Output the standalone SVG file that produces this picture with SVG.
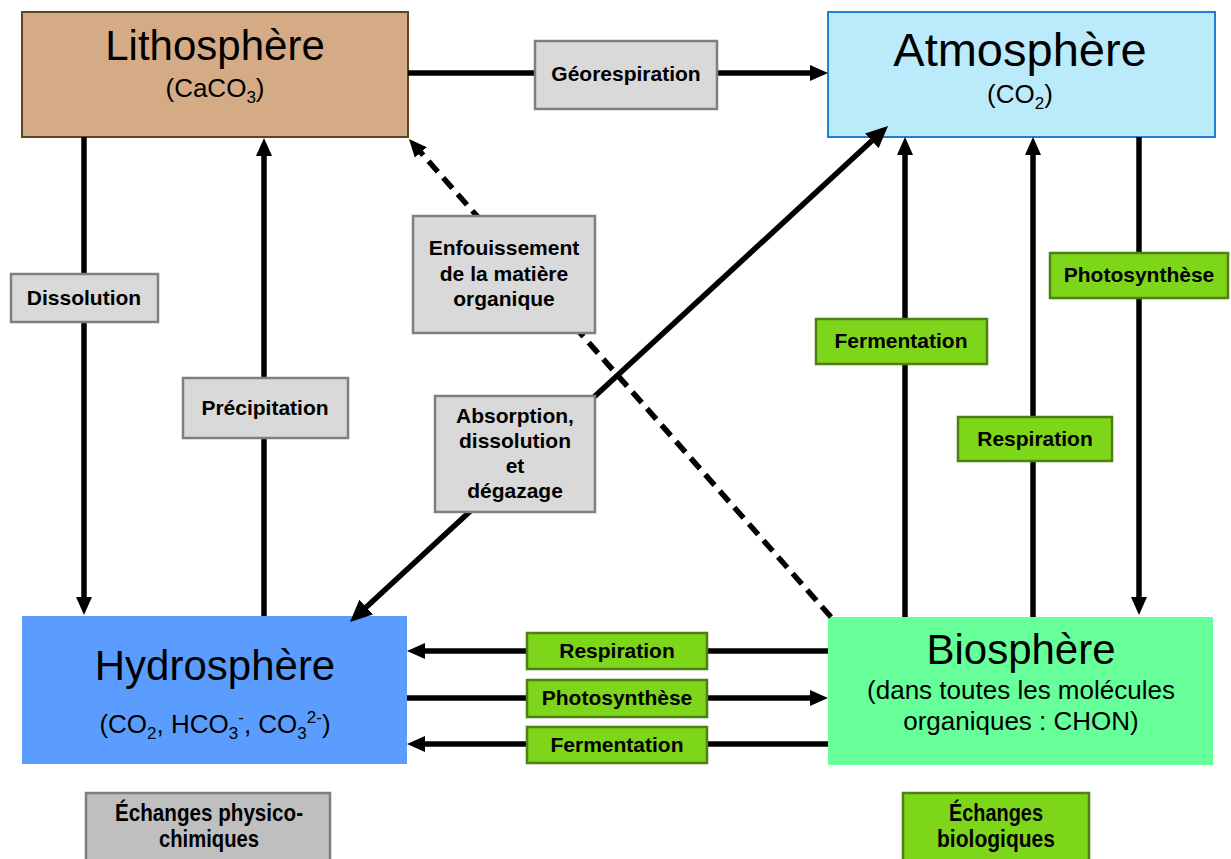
<svg xmlns="http://www.w3.org/2000/svg" width="1231" height="859" viewBox="0 0 1231 859">
<style>
text{font-family:"Liberation Sans",Arial,sans-serif;fill:#000;text-anchor:middle}
.title{font-size:42px}
.sub{font-size:26px}
.lbl{font-size:21px;font-weight:bold}
.leg{font-size:24px;font-weight:bold}
.gray{fill:#d9d9d9;stroke:#7f7f7f;stroke-width:2.5}
.green{fill:#7ed61a;stroke:#4f8014;stroke-width:2.5}
.con{stroke:#000;stroke-width:5.5;fill:none}
</style>
<defs>
<marker id="ah" markerUnits="userSpaceOnUse" markerWidth="18" markerHeight="16" viewBox="0 0 18 16" refX="8" refY="8" orient="auto-start-reverse">
<path d="M0,0 L18,8 L0,16 z" fill="#000"/>
</marker>
<marker id="ahb" markerUnits="userSpaceOnUse" markerWidth="22" markerHeight="20" viewBox="0 0 22 20" refX="10" refY="10" orient="auto-start-reverse">
<path d="M0,0 L22,10 L0,20 z" fill="#000"/>
</marker>
</defs>

<g id="lithosphere">
<rect x="22" y="12" width="386" height="125" fill="#d5ab85" stroke="#5e4429" stroke-width="2"/>
<text class="title" x="215" y="60">Lithosphère</text>
<text class="sub" x="215" y="97">(CaCO<tspan font-size="17" dy="6">3</tspan><tspan dy="-6">)</tspan></text>
</g>
<g id="atmosphere">
<rect x="828" y="12" width="387" height="125" fill="#bbebfb" stroke="#1f7fd0" stroke-width="2"/>
<text x="1020" y="66" font-size="47">Atmosphère</text>
<text class="sub" x="1020" y="103">(CO<tspan font-size="17" dy="6">2</tspan><tspan dy="-6">)</tspan></text>
</g>
<g id="hydrosphere">
<rect x="22" y="616" width="385" height="148" fill="#5b9dff"/>
<text class="title" x="215" y="680">Hydrosphère</text>
<text class="sub" x="215" y="733">(CO<tspan font-size="17" dy="6">2</tspan><tspan dy="-6">, HCO</tspan><tspan font-size="17" dy="6">3</tspan><tspan font-size="17" dy="-16">-</tspan><tspan dy="10">, CO</tspan><tspan font-size="17" dy="6">3</tspan><tspan font-size="17" dy="-16">2-</tspan><tspan dy="10">)</tspan></text>
</g>
<g id="biosphere">
<rect x="828" y="617" width="385" height="148" fill="#66ff99"/>
<text class="title" x="1021" y="664">Biosphère</text>
<text class="sub" x="1021" y="699">(dans toutes les molécules</text>
<text class="sub" x="1021" y="730">organiques  : CHON)</text>
</g>

<g id="connectors">
<line class="con" x1="408" y1="73" x2="818" y2="73" marker-end="url(#ah)"/>
<line class="con" x1="84" y1="137" x2="84" y2="605" marker-end="url(#ah)"/>
<line class="con" x1="264" y1="616" x2="264" y2="148" marker-end="url(#ah)"/>
<line class="con" x1="905" y1="617" x2="905" y2="147" marker-end="url(#ah)"/>
<line class="con" x1="1033" y1="617" x2="1033" y2="147" marker-end="url(#ah)"/>
<line class="con" x1="1139" y1="137" x2="1139" y2="605" marker-end="url(#ah)"/>
<line class="con" x1="828" y1="651" x2="417" y2="651" marker-end="url(#ah)"/>
<line class="con" x1="407" y1="698" x2="818" y2="698" marker-end="url(#ah)"/>
<line class="con" x1="828" y1="744" x2="417" y2="744" marker-end="url(#ah)"/>
<line class="con" x1="831" y1="617" x2="415.6" y2="146.5" stroke-dasharray="14,8" marker-end="url(#ah)"/>
<line class="con" x1="358.8" y1="613.9" x2="879.2" y2="134.1" stroke-width="7" marker-start="url(#ahb)" marker-end="url(#ahb)"/>
</g>

<g id="label-georespiration">
<rect class="gray" x="535" y="41" width="182" height="68"/>
<text class="lbl" x="626" y="81">Géorespiration</text>
</g>
<g id="label-dissolution">
<rect class="gray" x="11" y="274" width="147" height="48"/>
<text class="lbl" x="84" y="305">Dissolution</text>
</g>
<g id="label-precipitation">
<rect class="gray" x="183" y="378" width="165" height="60"/>
<text class="lbl" x="265" y="415">Précipitation</text>
</g>
<g id="label-enfouissement">
<rect class="gray" x="413" y="216" width="182" height="117"/>
<text class="lbl" x="504" y="255">Enfouissement</text>
<text class="lbl" x="504" y="281">de la matière</text>
<text class="lbl" x="504" y="306">organique</text>
</g>
<g id="label-absorption">
<rect class="gray" x="435" y="396" width="160" height="116"/>
<text class="lbl" x="515" y="423">Absorption,</text>
<text class="lbl" x="515" y="448">dissolution</text>
<text class="lbl" x="515" y="473">et</text>
<text class="lbl" x="515" y="498">dégazage</text>
</g>
<g id="label-fermentation-atm">
<rect class="green" x="816" y="319" width="171" height="45"/>
<text class="lbl" x="901" y="348">Fermentation</text>
</g>
<g id="label-respiration-atm">
<rect class="green" x="958" y="417" width="154" height="44"/>
<text class="lbl" x="1035" y="446">Respiration</text>
</g>
<g id="label-photosynthese-atm">
<rect class="green" x="1050" y="253" width="178" height="45"/>
<text class="lbl" x="1139" y="282">Photosynthèse</text>
</g>
<g id="label-respiration-hyd">
<rect class="green" x="527" y="633" width="180" height="36"/>
<text class="lbl" x="617" y="658">Respiration</text>
</g>
<g id="label-photosynthese-hyd">
<rect class="green" x="527" y="680" width="180" height="37"/>
<text class="lbl" x="617" y="705">Photosynthèse</text>
</g>
<g id="label-fermentation-hyd">
<rect class="green" x="527" y="727" width="180" height="36"/>
<text class="lbl" x="617" y="752">Fermentation</text>
</g>

<g id="legend-physico">
<rect x="86" y="793" width="244" height="70" fill="#bfbfbf" stroke="#7f7f7f" stroke-width="2.5"/>
<text class="leg" x="209" y="821" textLength="188" lengthAdjust="spacingAndGlyphs">Échanges physico-</text>
<text class="leg" x="209" y="847" textLength="100" lengthAdjust="spacingAndGlyphs">chimiques</text>
</g>
<g id="legend-bio">
<rect x="903" y="793" width="186" height="70" fill="#7ed61a" stroke="#4f8014" stroke-width="2.5"/>
<text class="leg" x="996" y="821" textLength="94" lengthAdjust="spacingAndGlyphs">Échanges</text>
<text class="leg" x="996" y="847" textLength="118" lengthAdjust="spacingAndGlyphs">biologiques</text>
</g>
</svg>
